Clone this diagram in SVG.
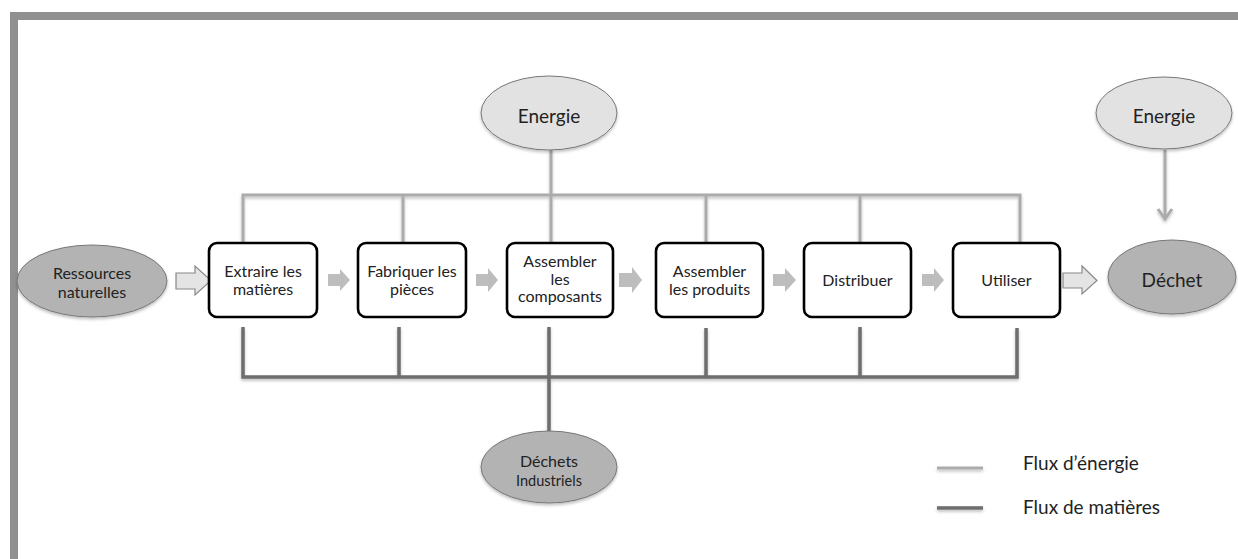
<svg xmlns="http://www.w3.org/2000/svg" width="1238" height="559" viewBox="0 0 1238 559">
<defs>
<style>
text{font-family:Lato,"Open Sans","Liberation Sans",sans-serif;fill:#222;text-anchor:middle}
.box{fill:#fff;stroke:#000;stroke-width:2.6}
.ell-light{fill:#e2e2e2;stroke:#777;stroke-width:1}
.ell-dark{fill:#b3b3b3;stroke:#777;stroke-width:1}
.en{fill:none;stroke:#ababab;stroke-width:3}
.mat{fill:none;stroke:#6e6e6e;stroke-width:3.5}
.step{fill:#bdbdbd}
.hollow{fill:#e4e4e4;stroke:#888;stroke-width:1.2}
.t16{font-size:16px}
.t19{font-size:19px}
.leg{font-size:19px;text-anchor:start}
</style>
<filter id="sh" x="-10%" y="-10%" width="130%" height="140%">
<feDropShadow dx="0" dy="2" stdDeviation="1.5" flood-color="#000" flood-opacity="0.25"/>
</filter>
<filter id="shu" filterUnits="userSpaceOnUse" x="920" y="450" width="80" height="80">
<feDropShadow dx="0" dy="2" stdDeviation="1.5" flood-color="#000" flood-opacity="0.25"/>
</filter>
</defs>
<rect width="1238" height="559" fill="#fff"/>
<path d="M14,559 V16 H1238" fill="none" stroke="#909090" stroke-width="8"/>

<g id="connectors">
<g filter="url(#sh)">
<path class="en" d="M243,242 V195 H1020 V242"/>
<path class="en" d="M403,195 V242 M551,150 V242 M706,195 V242 M860,195 V242"/>
<path class="en" d="M1165,150 V218"/>
<path d="M1158,209 L1165,219 L1172,209" fill="none" stroke="#ababab" stroke-width="3"/>
<path class="mat" d="M243,327 V377 H1017 V328"/>
<path class="mat" d="M399,327 V377 M549,327 V431 M706,328 V377 M860,327 V377"/>
</g>
<polygon class="hollow" points="176,273 195,273 195,266 211,280.5 195,295 195,289 176,289"/>
<polygon class="hollow" points="1063,273 1082,273 1082,266 1097,280.5 1082,294 1082,288 1063,288"/>
<polygon class="step" points="328,274 340,274 340,269 350,280 340,291 340,286 328,286"/>
<polygon class="step" points="476,274 488,274 488,268 498,280 488,292 488,286 476,286"/>
<polygon class="step" points="619,273 632,273 632,267 642,280 632,293 632,287 619,287"/>
<polygon class="step" points="773,274 785,274 785,268 796,280 785,292 785,286 773,286"/>
<polygon class="step" points="922,274 934,274 934,268 944,280 934,292 934,286 922,286"/>
</g>

<g id="ressources">
<ellipse class="ell-dark" cx="92" cy="281" rx="75" ry="36" filter="url(#sh)"/>
<text class="t16" x="92" y="279">Ressources</text>
<text class="t16" x="92" y="298">naturelles</text>
</g>

<g id="extraire">
<rect class="box" x="209" y="243" width="108" height="74" rx="8"/>
<text class="t16" x="263" y="277">Extraire les</text>
<text class="t16" x="263" y="295">matières</text>
</g>

<g id="fabriquer">
<rect class="box" x="358" y="243" width="108" height="74" rx="8"/>
<text class="t16" x="412" y="277">Fabriquer les</text>
<text class="t16" x="412" y="295">pièces</text>
</g>

<g id="assembler-composants">
<rect class="box" x="507" y="243" width="106" height="74" rx="8"/>
<text class="t16" x="560" y="267">Assembler</text>
<text class="t16" x="560" y="285">les</text>
<text class="t16" x="560" y="302">composants</text>
</g>

<g id="assembler-produits">
<rect class="box" x="656" y="243" width="107" height="74" rx="8"/>
<text class="t16" x="709.5" y="277">Assembler</text>
<text class="t16" x="709.5" y="295">les produits</text>
</g>

<g id="distribuer">
<rect class="box" x="804" y="243" width="107" height="74" rx="8"/>
<text class="t16" x="857.5" y="286">Distribuer</text>
</g>

<g id="utiliser">
<rect class="box" x="953" y="243" width="107" height="74" rx="8"/>
<text class="t16" x="1006.5" y="286">Utiliser</text>
</g>

<g id="energie-1">
<ellipse class="ell-light" cx="549" cy="113" rx="68" ry="37" filter="url(#sh)"/>
<text class="t19" x="549" y="123">Energie</text>
</g>

<g id="energie-2">
<ellipse class="ell-light" cx="1164" cy="113" rx="68" ry="36" filter="url(#sh)"/>
<text class="t19" x="1164" y="123">Energie</text>
</g>

<g id="dechet">
<ellipse class="ell-dark" cx="1172" cy="277" rx="64" ry="37" filter="url(#sh)"/>
<text class="t19" x="1172" y="287">Déchet</text>
</g>

<g id="dechets-industriels">
<ellipse class="ell-dark" cx="549" cy="467" rx="68" ry="36" filter="url(#sh)"/>
<text x="549" y="467" style="font-size:16px">Déchets</text>
<text x="549" y="486" style="font-size:14.5px">Industriels</text>
</g>

<g id="legend">
<rect x="937" y="466.5" width="46" height="3" fill="#ababab" filter="url(#shu)"/>
<rect x="937" y="506.2" width="46" height="3.5" fill="#6e6e6e" filter="url(#shu)"/>
<text class="leg" x="1023" y="470">Flux d’énergie</text>
<text class="leg" x="1023" y="514">Flux de matières</text>
</g>
</svg>
